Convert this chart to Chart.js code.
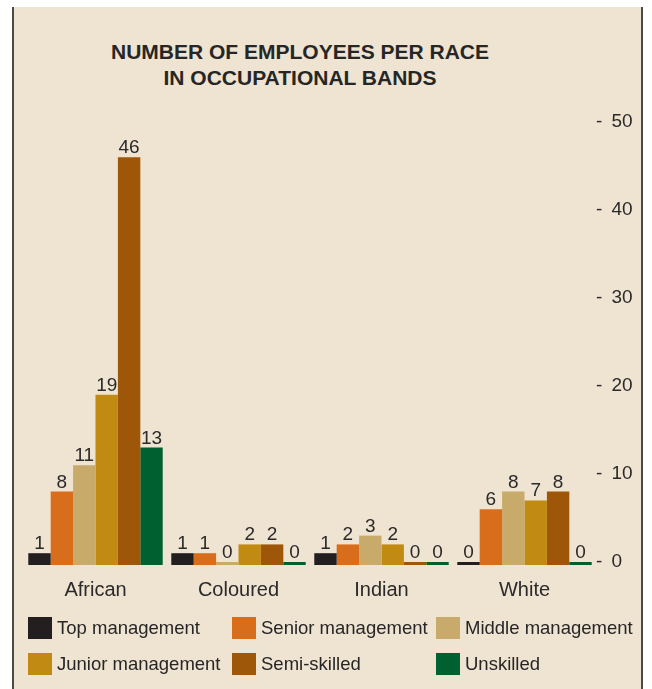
<!DOCTYPE html>
<html>
<head>
<meta charset="utf-8">
<script src="https://cdn.jsdelivr.net/npm/chart.js@4/dist/chart.umd.min.js"></script>
<style>
  html, body { margin: 0; padding: 0; background: #ffffff; }
  body { width: 652px; height: 689px; position: relative; overflow: hidden; font-family: "Liberation Sans", Arial, sans-serif; }
  #panel {
    position: absolute; left: 12px; top: 7px; width: 627px; height: 682px;
    background: #efe3d1; border-left: 2px solid #4a4a4a; border-right: 2px solid #4a4a4a;
  }
  #title {
    position: absolute; left: 100px; width: 400px; top: 39px;
    text-align: center; font-weight: bold; font-size: 21px; line-height: 26px; color: #262626;
  }
  #chart { position: absolute; left: 0; top: 0; }
  #legend { position: absolute; left: 28px; top: 617px; width: 620px; }
  .item { position: absolute; display: flex; align-items: center; height: 22px; font-size: 18.5px; color: #262626; white-space: nowrap; }
  .swatch { width: 24px; height: 22px; margin-right: 5px; }
</style>
</head>
<body>
<div id="panel"></div>
<div id="title">NUMBER OF EMPLOYEES PER RACE<br>IN OCCUPATIONAL BANDS</div>
<canvas id="chart" width="652" height="689"></canvas>
<div id="legend"></div>
<script>
// Race groups along the x axis
const races = ['African', 'Coloured', 'Indian', 'White'];

// Occupational bands (one dataset each)
const bands = ['Top management', 'Senior management', 'Middle management',
               'Junior management', 'Semi-skilled', 'Unskilled'];
const bandColors = ['#231f20', '#d86e1c', '#c8aa6a', '#c18a12', '#9e5608', '#006030'];

// Employee counts per band, in race order
const topManagement    = [1, 1, 1, 0];
const seniorManagement = [8, 1, 2, 6];
const middleManagement = [11, 0, 3, 8];
const juniorManagement = [19, 2, 2, 7];
const semiSkilled      = [46, 2, 0, 8];
const unskilled        = [13, 0, 0, 0];

// Value axis ticks
const yTicks = [0, 10, 20, 30, 40, 50];

const seriesValues = [topManagement, seniorManagement, middleManagement,
                      juniorManagement, semiSkilled, unskilled];

// Bars start slightly below zero so empty bands still show a thin strip
const BAR_FLOOR = -0.34;

const FONT = '"Liberation Sans", Arial, sans-serif';

const datasets = bands.map((name, i) => ({
  label: name,
  data: seriesValues[i],
  backgroundColor: bandColors[i],
  borderWidth: 0,
  base: BAR_FLOOR,
  categoryPercentage: 0.94,
  barPercentage: 1.0
}));

// Value labels above each bar
const valueLabels = {
  id: 'valueLabels',
  afterDatasetsDraw(chart) {
    const ctx = chart.ctx;
    ctx.save();
    ctx.font = '19px ' + FONT;
    ctx.fillStyle = '#2a2a2a';
    ctx.textAlign = 'center';
    ctx.textBaseline = 'alphabetic';
    chart.data.datasets.forEach((ds, di) => {
      const meta = chart.getDatasetMeta(di);
      meta.data.forEach((bar, idx) => {
        const v = ds.data[idx];
        const top = chart.scales.y.getPixelForValue(v);
        ctx.fillText(String(v), bar.x, top - 4);
      });
    });
    ctx.restore();
  }
};

new Chart(document.getElementById('chart'), {
  type: 'bar',
  data: { labels: races, datasets },
  options: {
    responsive: false,
    animation: false,
    layout: { padding: { left: 24, right: 10, top: 122, bottom: 89 } },
    plugins: {
      legend: { display: false },
      tooltip: { enabled: false },
      title: { display: false }
    },
    scales: {
      x: {
        grid: { display: false, drawTicks: false },
        border: { display: false },
        ticks: {
          color: '#2a2a2a',
          padding: 13,
          font: { family: FONT, size: 20 }
        },
        afterFit(scale) { scale.height = 35; }
      },
      y: {
        position: 'right',
        min: BAR_FLOOR,
        max: 50,
        grid: { display: false, drawTicks: false },
        border: { display: false },
        afterBuildTicks(scale) { scale.ticks = yTicks.map(v => ({ value: v })); },
        ticks: {
          color: '#2a2a2a',
          padding: 0,
          crossAlign: 'near',
          font: { family: FONT, size: 19 },
          callback: (v) => '- \u2009' + v
        },
        afterFit(scale) { scale.width = 46; }
      }
    }
  },
  plugins: [valueLabels]
});

// Legend laid out in three columns, two rows
const legend = document.getElementById('legend');
const colX = [0, 204, 408];
bands.forEach((name, i) => {
  const item = document.createElement('div');
  item.className = 'item';
  item.style.left = colX[i % 3] + 'px';
  item.style.top = (Math.floor(i / 3) * 36) + 'px';
  const sw = document.createElement('span');
  sw.className = 'swatch';
  sw.style.background = bandColors[i];
  item.appendChild(sw);
  item.appendChild(document.createTextNode(name));
  legend.appendChild(item);
});
</script>
</body>
</html>
